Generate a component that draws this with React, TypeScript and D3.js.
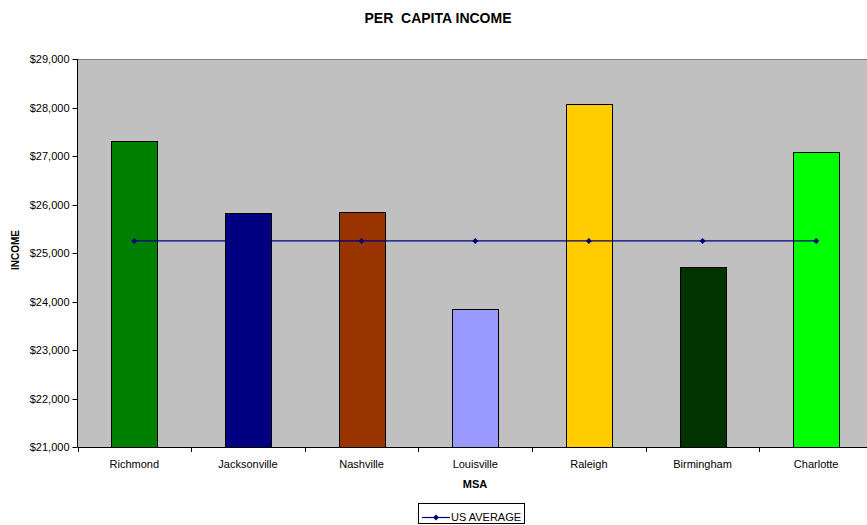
import * as d3 from 'd3';

const categories = ['Richmond', 'Jacksonville', 'Nashville', 'Louisville', 'Raleigh', 'Birmingham', 'Charlotte'];
const incomes = [27310, 25820, 25840, 23850, 28070, 24710, 27090];
const usAverage = [25250, 25250, 25250, 25250, 25250, 25250, 25250];
const barColors = ['#008000', '#000080', '#993300', '#9999FF', '#FFCC00', '#003300', '#00FF00'];
const yTicks = [21000, 22000, 23000, 24000, 25000, 26000, 27000, 28000, 29000];

const W = 867;
const H = 525;
const plot = { left: 77.5, right: 873, top: 59, bottom: 447 };
const font = 'Liberation Sans, Arial, sans-serif';

const App = () => {
  const x = d3
    .scaleBand<string>()
    .domain(categories)
    .range([plot.left, plot.right])
    .paddingInner(0.595)
    .paddingOuter(0.2975);
  const step = x.step();
  const y = d3.scaleLinear().domain([21000, 29000]).range([plot.bottom, plot.top]);
  const fmt = (v: number) => '$' + d3.format(',')(v);
  const cx = (c: string) => (x(c) || 0) + x.bandwidth() / 2;

  const line = d3
    .line<number>()
    .x((_, i) => cx(categories[i]))
    .y((d) => y(d));

  const diamond = (px: number, py: number, r = 3) =>
    `M${px},${py - r}L${px + r},${py}L${px},${py + r}L${px - r},${py}Z`;

  return (
    <svg width={W} height={H} style={{ position: 'absolute', left: 0, top: 0 }} fontFamily={font}>
      <rect x={0} y={0} width={W} height={H} fill='#ffffff' />
      <text x={438} y={23} textAnchor='middle' fontSize={14} fontWeight='bold' style={{ whiteSpace: 'pre' }}>
        {'PER  CAPITA INCOME'}
      </text>

      {/* plot area */}
      <rect x={plot.left} y={plot.top} width={plot.right - plot.left} height={plot.bottom - plot.top} fill='#C0C0C0' />
      <line x1={plot.left} x2={plot.right} y1={plot.top + 0.5} y2={plot.top + 0.5} stroke='#808080' />

      {/* bars */}
      {categories.map((c, i) => (
        <rect
          key={c}
          x={Math.round(x(c) || 0) + 0.5}
          y={Math.round(y(incomes[i])) + 0.5}
          width={Math.round(x.bandwidth())}
          height={Math.round(plot.bottom - y(incomes[i]))}
          fill={barColors[i]}
          stroke='#000000'
          strokeWidth={1}
        />
      ))}

      {/* US average */}
      <path d={line(usAverage) || ''} fill='none' stroke='#000080' strokeWidth={1.2} />
      {usAverage.map((v, i) => (
        <path key={i} d={diamond(cx(categories[i]), y(v))} fill='#000080' />
      ))}

      {/* y axis */}
      <line x1={plot.left} x2={plot.left} y1={plot.top} y2={plot.bottom} stroke='#000000' />
      {yTicks.map((t) => (
        <g key={t}>
          <line x1={plot.left - 5} x2={plot.left} y1={Math.round(y(t)) + 0.5} y2={Math.round(y(t)) + 0.5} stroke='#000000' />
          <text x={plot.left - 8} y={y(t) + 4} textAnchor='end' fontSize={11} fill='#000000'>
            {fmt(t)}
          </text>
        </g>
      ))}
      <text
        transform={`translate(18.5,${250}) rotate(-90)`}
        textAnchor='middle'
        fontSize={10}
        fontWeight='bold'
      >
        INCOME
      </text>

      {/* x axis */}
      <line x1={plot.left} x2={plot.right} y1={plot.bottom + 0.5} y2={plot.bottom + 0.5} stroke='#000000' />
      {d3.range(categories.length + 1).map((i) => (
        <line
          key={i}
          x1={Math.round(plot.left + i * step) + 0.5}
          x2={Math.round(plot.left + i * step) + 0.5}
          y1={plot.bottom}
          y2={plot.bottom + 5}
          stroke='#000000'
        />
      ))}
      {categories.map((c) => (
        <text key={c} x={cx(c)} y={468} textAnchor='middle' fontSize={11}>
          {c}
        </text>
      ))}
      <text x={475} y={488} textAnchor='middle' fontSize={11} fontWeight='bold'>
        MSA
      </text>

      {/* legend */}
      <rect x={418.5} y={503.5} width={106} height={20} fill='#ffffff' stroke='#000000' />
      <line x1={422} x2={450} y1={517.5} y2={517.5} stroke='#000080' strokeWidth={1.2} />
      <path d={diamond(436, 517.5)} fill='#000080' />
      <text x={451} y={521} fontSize={11}>
        US AVERAGE
      </text>
    </svg>
  );
};

export default App;
